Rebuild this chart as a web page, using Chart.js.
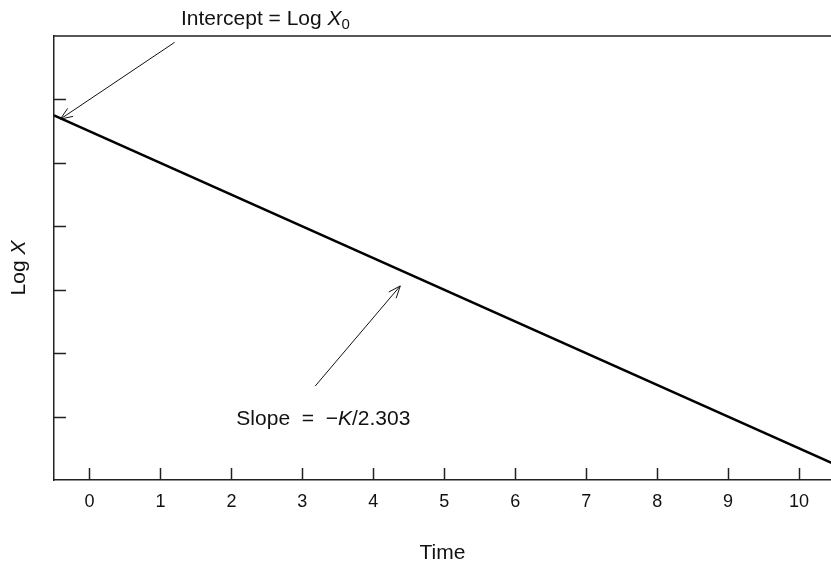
<!DOCTYPE html>
<html>
<head>
<meta charset="utf-8">
<script src="https://cdn.jsdelivr.net/npm/chart.js@4/dist/chart.umd.min.js"></script>
<style>
body { margin: 0; background: #fff; }
</style>
</head>
<body>
<canvas id="chart" width="831" height="567"></canvas>
<script>
// straight line: Log X vs time
const time = [-0.5, 10.5]
const logX = [5.75, 0.25]
const xTicks = [0, 1, 2, 3, 4, 5, 6, 7, 8, 9, 10]
const yTicks = [1, 2, 3, 4, 5, 6]
// arrows as [tailX, tailY, headX, headY] in data units
const arrows = [
  [1.2, 6.9, -0.41, 5.69],
  [3.18, 1.48, 4.38, 3.06]
]
// label anchors (left, baseline) in data units
const interceptAt = [1.29, 7.17]
const slopeAt = [2.07, 0.87]

const FONT = '"Liberation Sans", Arial, Helvetica, sans-serif'

function rich(c, x, y, parts, align) {
  let w = 0
  parts.forEach(p => { c.font = p[1]; w += c.measureText(p[0]).width })
  let cx = align === 'center' ? x - w / 2 : x
  parts.forEach(p => {
    c.font = p[1]
    c.fillText(p[0], cx, y + (p[2] || 0))
    cx += c.measureText(p[0]).width
  })
}

function arrow(c, x1, y1, x2, y2) {
  const ang = Math.atan2(y2 - y1, x2 - x1)
  const len = 13, spread = 0.38
  c.beginPath()
  c.moveTo(x1, y1); c.lineTo(x2, y2)
  c.moveTo(x2 - len * Math.cos(ang - spread), y2 - len * Math.sin(ang - spread))
  c.lineTo(x2, y2)
  c.lineTo(x2 - len * Math.cos(ang + spread), y2 - len * Math.sin(ang + spread))
  c.stroke()
}

const extras = {
  id: 'extras',
  afterDraw(chart) {
    const c = chart.ctx
    const xs = chart.scales.x, ys = chart.scales.y
    const a = chart.chartArea
    c.save()
    c.strokeStyle = '#222'
    c.lineWidth = 1.5
    c.beginPath()
    c.moveTo(a.left, a.top); c.lineTo(a.right, a.top)
    xTicks.forEach(v => {
      const px = Math.round(xs.getPixelForValue(v)) + 0.5
      c.moveTo(px, a.bottom); c.lineTo(px, a.bottom - 12)
    })
    yTicks.forEach(v => {
      const py = Math.round(ys.getPixelForValue(v)) + 0.5
      c.moveTo(a.left, py); c.lineTo(a.left + 12, py)
    })
    c.stroke()

    c.strokeStyle = '#111'
    c.lineWidth = 1
    arrows.forEach(r => arrow(c, xs.getPixelForValue(r[0]), ys.getPixelForValue(r[1]),
      xs.getPixelForValue(r[2]), ys.getPixelForValue(r[3])))

    c.fillStyle = '#111'
    c.textBaseline = 'alphabetic'
    rich(c, xs.getPixelForValue(interceptAt[0]), ys.getPixelForValue(interceptAt[1]), [
      ['Intercept = Log ', '21px ' + FONT],
      ['X', 'italic 21px ' + FONT],
      ['0', '15px ' + FONT, 4]
    ])
    rich(c, xs.getPixelForValue(slopeAt[0]), ys.getPixelForValue(slopeAt[1]), [
      ['Slope  =  \u2212', '21px ' + FONT],
      ['K', 'italic 21px ' + FONT],
      ['/2.303', '21px ' + FONT]
    ])

    c.translate(19, 268)
    c.rotate(-Math.PI / 2)
    c.textBaseline = 'middle'
    rich(c, 0, 0, [['Log ', '21px ' + FONT], ['X', 'italic 21px ' + FONT]], 'center')
    c.restore()
  }
}

new Chart(document.getElementById('chart'), {
  type: 'scatter',
  data: {
    datasets: [{
      data: time.map((t, i) => ({ x: t, y: logX[i] })),
      showLine: true,
      borderColor: '#000',
      borderWidth: 2.5,
      pointRadius: 0
    }]
  },
  options: {
    responsive: false,
    animation: false,
    layout: { padding: { top: 36, right: 0, bottom: 0, left: 0 } },
    plugins: { legend: { display: false }, tooltip: { enabled: false } },
    scales: {
      x: {
        type: 'linear',
        min: -0.5,
        max: 10.45,
        afterBuildTicks: s => { s.ticks = xTicks.map(v => ({ value: v })) },
        afterFit: s => { s.height = 87 },
        grid: { display: false },
        border: { display: true, color: '#222', width: 1.5 },
        ticks: { color: '#111', padding: 3, font: { size: 18, family: FONT } },
        title: { display: true, text: 'Time', color: '#111', padding: { top: 0, bottom: 1 }, font: { size: 21, family: FONT } }
      },
      y: {
        min: 0,
        max: 7,
        afterFit: s => { s.width = 54 },
        grid: { display: false },
        border: { display: true, color: '#222', width: 1.5 },
        ticks: { display: false }
      }
    }
  },
  plugins: [extras]
})
</script>
</body>
</html>
